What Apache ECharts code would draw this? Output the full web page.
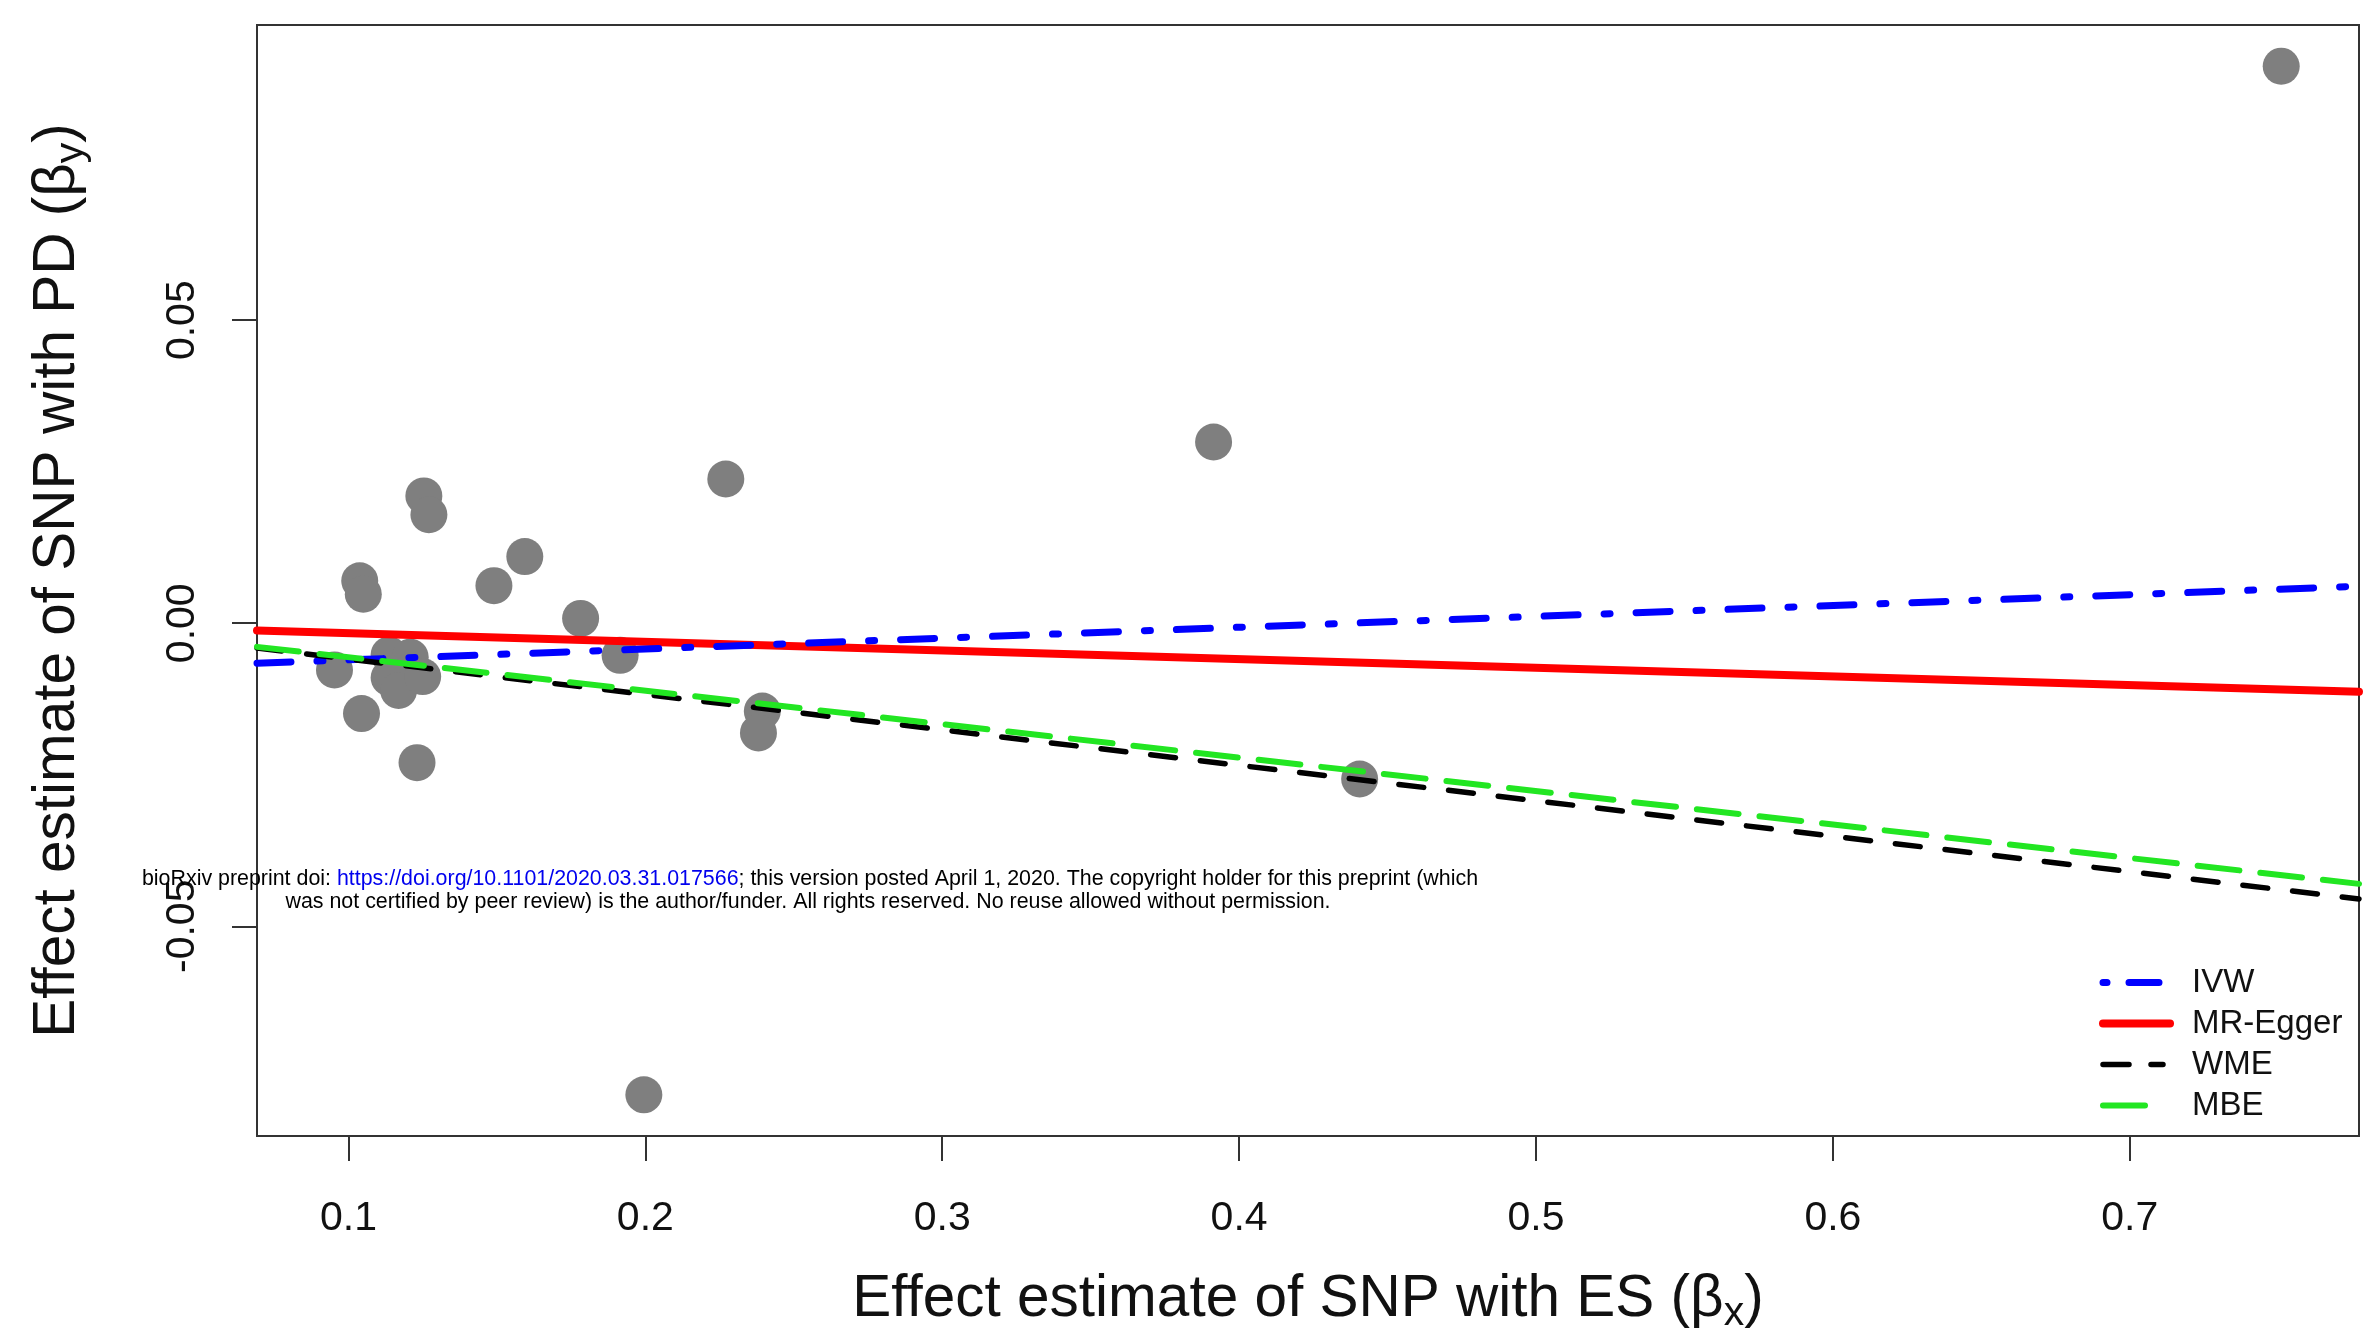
<!DOCTYPE html>
<html>
<head>
<meta charset="utf-8">
<script src="https://cdn.jsdelivr.net/npm/echarts@6.0.0/dist/echarts.min.js"></script>
<style>
  html, body { margin: 0; padding: 0; background: #fff; }
  #chart { width: 2365px; height: 1339px; }
</style>
</head>
<body>
<div id="chart"></div>
<script>
// SNP effect estimates: [beta_x, beta_y]
const snpPoints = [
  [0.7510, 0.0919], [0.3914, 0.0299], [0.2271, 0.0238], [0.1254, 0.0210],
  [0.1271, 0.0179], [0.1594, 0.0110], [0.1490, 0.0062], [0.1038, 0.0070],
  [0.1050, 0.0048], [0.1782, 0.0008], [0.1915, -0.0053], [0.0953, -0.0077],
  [0.1044, -0.0149], [0.1231, -0.0230], [0.2394, -0.0145], [0.2381, -0.0181],
  [0.4406, -0.0257], [0.1995, -0.0778], [0.1137, -0.0052], [0.1208, -0.0056],
  [0.1137, -0.0090], [0.1169, -0.0111], [0.1250, -0.0088],
];

// fitted lines, end points at the plot edges
const ivwLine = [[0.0692, -0.0066], [0.7772, 0.0061]];
const eggerLine = [[0.0692, -0.0012], [0.7772, -0.0113]];
const wmeLine = [[0.0692, -0.0041], [0.7772, -0.0455]];
const mbeLine = [[0.0692, -0.0039], [0.7772, -0.0430]];

const legendNames = ['IVW', 'MR-Egger', 'WME', 'MBE'];
const xTicks = [0.1, 0.2, 0.3, 0.4, 0.5, 0.6, 0.7];
const yTicks = [-0.05, 0, 0.05];
const xRange = [0.0692, 0.7772];
const yRange = [-0.0846, 0.0987];

const chart = echarts.init(document.getElementById('chart'));

const FONT = '"Liberation Sans", Arial, Helvetica, sans-serif';
const titleRich = {
  t: { fontSize: 58.5, fontFamily: FONT, color: '#111' },
  s: { fontSize: 41, fontFamily: FONT, color: '#111', padding: [28, 0, 0, 0] },
};

const styles = {
  IVW: { color: '#0000ff', width: 7, dash: [34, 26, 6, 26], legendDash: [4, 22, 30, 100] },
  'MR-Egger': { color: '#ff0000', width: 8, dash: 'solid', legendDash: 'solid' },
  WME: { color: '#000000', width: 5.5, dash: [25, 25], legendDash: [26, 22, 12, 100] },
  MBE: { color: '#22e622', width: 6, dash: [42, 21], legendDash: [42, 100] },
};

function lineSeries(name, data) {
  const s = styles[name];
  return {
    name: name,
    type: 'line',
    data: data,
    symbol: 'none',
    silent: true,
    animation: false,
    lineStyle: { color: s.color, width: s.width, type: s.dash, cap: 'round' },
    itemStyle: { color: s.color },
  };
}

chart.setOption({
  backgroundColor: '#fff',
  animation: false,
  grid: {
    left: 257, right: 6, top: 25, bottom: 198,
    show: true, borderColor: '#333', borderWidth: 2,
  },
  xAxis: {
    type: 'value',
    min: xRange[0],
    max: xRange[1],
    splitLine: { show: false },
    axisLine: { show: false, onZero: false },
    axisTick: {
      show: true, inside: false, length: 25, customValues: xTicks,
      lineStyle: { color: '#333', width: 2 },
    },
    axisLabel: {
      customValues: xTicks, margin: 62, fontSize: 41, color: '#111', fontFamily: FONT,
      formatter: (v) => v.toFixed(1),
    },
    name: '{t|Effect estimate of SNP with ES (β}{s|x}{t|)}',
    nameLocation: 'middle',
    nameGap: 129,
    nameTextStyle: { rich: titleRich },
  },
  yAxis: {
    type: 'value',
    min: yRange[0],
    max: yRange[1],
    splitLine: { show: false },
    axisLine: { show: false, onZero: false },
    axisTick: {
      show: true, inside: false, length: 25, customValues: yTicks,
      lineStyle: { color: '#333', width: 2 },
    },
    axisLabel: {
      customValues: yTicks, rotate: 90, margin: 54, fontSize: 41, color: '#111', fontFamily: FONT,
      formatter: (v) => v.toFixed(2),
    },
    name: '{t|Effect estimate of SNP with PD (β}{s|y}{t|)}',
    nameLocation: 'middle',
    nameGap: 165,
    nameTextStyle: { rich: titleRich },
  },
  legend: {
    data: legendNames.map((n) => ({
      name: n,
      itemStyle: { opacity: 0 },
      lineStyle: {
        color: styles[n].color, width: styles[n].width, type: styles[n].legendDash, cap: 'round',
      },
    })),
    orient: 'vertical',
    left: 2099,
    top: 962,
    itemWidth: 67,
    itemHeight: 14,
    itemGap: 0,
    padding: 0,
    selectedMode: false,
    textStyle: {
      fontSize: 33, fontFamily: FONT, color: '#111', lineHeight: 41,
      padding: [0, 0, 0, 17],
    },
  },
  series: [
    {
      type: 'scatter',
      data: snpPoints,
      symbolSize: 37,
      silent: true,
      itemStyle: { color: '#7f7f7f', opacity: 1 },
    },
    lineSeries('MR-Egger', eggerLine),
    lineSeries('IVW', ivwLine),
    lineSeries('WME', wmeLine),
    lineSeries('MBE', mbeLine),
  ],
  graphic: [
    {
      type: 'text',
      x: 810, y: 879, z: 100,
      style: {
        text: '{k|bioRxiv preprint doi: }{b|https://doi.org/10.1101/2020.03.31.017566}{k|; this version posted April 1, 2020. The copyright holder for this preprint (which}',
        align: 'center', verticalAlign: 'middle',
        rich: {
          k: { fontSize: 21.4, fontFamily: FONT, fill: '#000' },
          b: { fontSize: 21.4, fontFamily: FONT, fill: '#0000ee' },
        },
      },
    },
    {
      type: 'text',
      x: 808, y: 902, z: 100,
      style: {
        text: 'was not certified by peer review) is the author/funder. All rights reserved. No reuse allowed without permission.',
        align: 'center', verticalAlign: 'middle',
        fontSize: 21.4, fontFamily: FONT, fill: '#000',
      },
    },
  ],
});
</script>
</body>
</html>
